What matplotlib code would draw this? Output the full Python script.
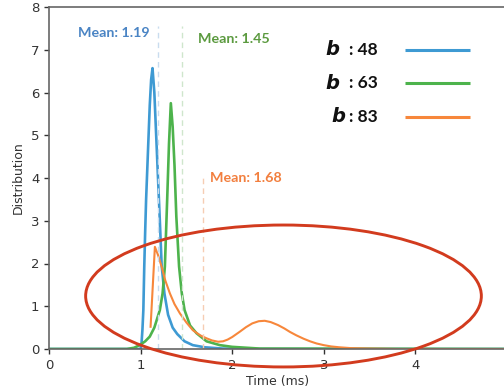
import matplotlib
matplotlib.use("Agg")
import matplotlib.pyplot as plt
from matplotlib.patches import Ellipse

# Distribution curves (time in ms)
blue_x = [0.0, 1.0, 1.01, 1.02, 1.03, 1.04, 1.05, 1.06, 1.08, 1.10, 1.115, 1.13, 1.15,
          1.17, 1.19, 1.21, 1.23, 1.26, 1.30, 1.35, 1.40, 1.48, 1.57, 1.70, 1.90, 2.20, 5.0]
blue_y = [0.0, 0.0, 0.13, 0.45, 0.91, 1.93, 2.75, 3.49, 4.6, 5.7, 6.3, 6.57, 6.0,
          5.0, 4.0, 3.0, 1.95, 1.3, 0.8, 0.5, 0.35, 0.18, 0.09, 0.04, 0.01, 0.0, 0.0]

green_x = [0.0, 0.85, 0.93, 0.99, 1.05, 1.10, 1.15, 1.21, 1.24, 1.265, 1.29, 1.31, 1.33,
           1.35, 1.37, 1.39, 1.42, 1.45, 1.48, 1.54, 1.61, 1.72, 1.865, 2.0, 2.3, 5.0]
green_y = [0.0, 0.0, 0.03, 0.09, 0.18, 0.29, 0.5, 0.91, 1.3, 1.93, 3.49, 4.8, 5.75,
           5.2, 4.3, 3.1, 1.93, 1.3, 0.91, 0.55, 0.37, 0.18, 0.09, 0.05, 0.01, 0.0]

orange_x = [1.109, 1.156, 1.19, 1.229, 1.27, 1.32, 1.37, 1.43, 1.50, 1.57, 1.65, 1.72,
            1.78, 1.846, 1.90, 1.95, 2.0, 2.08, 2.15, 2.22, 2.29, 2.355, 2.42, 2.5,
            2.57, 2.63, 2.70, 2.78, 2.85, 2.92, 3.0, 3.08, 3.17, 3.3, 3.5, 3.8, 5.0]
orange_y = [0.52, 2.39, 2.2, 1.93, 1.6, 1.30, 1.05, 0.83, 0.62, 0.44, 0.32, 0.25,
            0.20, 0.17, 0.18, 0.22, 0.28, 0.40, 0.51, 0.60, 0.65, 0.66, 0.63, 0.56,
            0.48, 0.40, 0.32, 0.24, 0.18, 0.13, 0.09, 0.06, 0.04, 0.02, 0.01, 0.0, 0.0]

series_b = ["48", "63", "83"]
means = [1.19, 1.45, 1.68]
mean_tops = [7.55, 7.55, 4.1]

c_blue = "#3e9ad3"
c_green = "#4db34c"
c_orange = "#f7873b"
colors = [c_blue, c_green, c_orange]
text_colors = ["#4a84c4", "#5b9a3f", "#f27f3e"]
line_colors = ["#c9dcef", "#cfe6cc", "#f6cdb3"]

fig = plt.figure(figsize=(5.04, 3.88), dpi=100)
ax = fig.add_axes([49 / 504, 39 / 388, 458 / 504, 342 / 388])

ax.plot(blue_x, blue_y, color=c_blue, lw=1.9)
ax.plot(green_x, green_y, color=c_green, lw=1.9)
ax.plot(orange_x, orange_y, color=c_orange, lw=1.5)

for m, top, lc in zip(means, mean_tops, line_colors):
    ax.plot([m, m], [0, top], color=lc, lw=1.0, ls=(0, (4, 3)))

label_font = "Lato"
ax.text(0.32, 7.4, "Mean: 1.19", color=text_colors[0], fontsize=10.3,
        fontweight="bold", family=label_font, va="center", ha="left")
ax.text(1.63, 7.24, "Mean: 1.45", color=text_colors[1], fontsize=10.3,
        fontweight="bold", family=label_font, va="center", ha="left")
ax.text(1.76, 4.0, "Mean: 1.68", color=text_colors[2], fontsize=10.3,
        fontweight="bold", family=label_font, va="center", ha="left")

# legend drawn as text + line samples
row_y = [7.0, 6.22, 5.43]
b_x = [3.02, 3.02, 3.08]
for by, bx, val, col in zip(row_y, b_x, series_b, colors):
    ax.text(bx, by, "b", fontsize=14, fontweight="bold", style="italic",
            family="DejaVu Sans", va="center", ha="left", color="#111111")
    ax.text(3.27, by, ": " + val, fontsize=12.5, fontweight="bold",
            family=label_font, va="center", ha="left", color="#111111")
    ax.plot([3.89, 4.6], [by, by], color=col, lw=2.2, solid_capstyle="butt")

ell = Ellipse((2.56, 1.24), 4.32, 3.32, fill=False, edgecolor="#d23b1e",
              lw=2.1, clip_on=False, zorder=5)
ax.add_patch(ell)

ax.set_xlim(0, 5)
ax.set_ylim(0, 8)
ax.set_xticks([0, 1, 2, 3, 4])
ax.set_yticks(range(0, 9))
ax.tick_params(labelsize=9.5, colors="#333333", length=3.5, width=1)
ax.set_xlabel("Time (ms)", fontsize=9, color="#333333", labelpad=2)
ax.set_ylabel("Distribution", fontsize=9, color="#333333", labelpad=4)
for s in ax.spines.values():
    s.set_color("#666666")
    s.set_linewidth(1.2)
ax.spines["right"].set_visible(False)

fig.savefig("out.png", dpi=100)
